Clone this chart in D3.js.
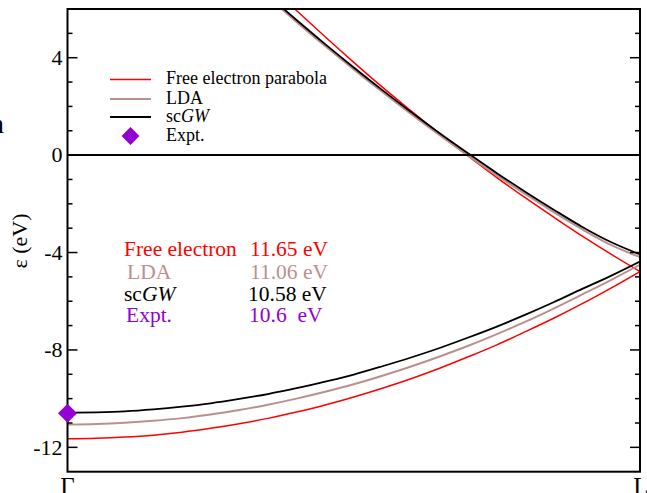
<!DOCTYPE html>
<html><head><meta charset="utf-8">
<script src="https://cdn.jsdelivr.net/npm/d3@7"></script>
<style>
html,body{margin:0;padding:0;background:#fff;}
svg{display:block;}
svg text{font-family:"Liberation Serif","Times New Roman",Times,"DejaVu Serif",serif;}
</style></head>
<body>
<svg id="c" width="647" height="493"></svg>
<script>
// k along Γ -> L (fraction of path)
const kLower = [0,0.05,0.1,0.15,0.2,0.25,0.3,0.35,0.4,0.45,0.5,0.55,0.6,0.65,0.7,0.75,0.8,0.85,0.9,0.95,1];
const freeLower = [-11.65,-11.63,-11.58,-11.50,-11.38,-11.22,-11.03,-10.81,-10.55,-10.26,-9.93,-9.57,-9.18,-8.75,-8.28,-7.79,-7.25,-6.69,-6.09,-5.45,-4.78];
const ldaLower  = [-11.06,-11.04,-10.99,-10.91,-10.80,-10.65,-10.47,-10.25,-10.00,-9.72,-9.41,-9.06,-8.68,-8.27,-7.83,-7.35,-6.84,-6.29,-5.71,-5.12,-4.50];
const gwLower   = [-10.58,-10.56,-10.52,-10.44,-10.33,-10.19,-10.01,-9.81,-9.57,-9.30,-9.01,-8.67,-8.31,-7.92,-7.49,-7.04,-6.55,-6.03,-5.48,-4.95,-4.37];

const kUpper = [0.35,0.4,0.45,0.5,0.55,0.6,0.65,0.7,0.75,0.8,0.85,0.9,0.95,1];
const freeUpper = [7.05,5.94,4.86,3.81,2.79,1.82,0.87,-0.04,-0.92,-1.76,-2.56,-3.34,-4.08,-4.78];
const ldaUpper  = [6.50,5.47,4.48,3.52,2.59,1.69,0.82,-0.02,-0.83,-1.60,-2.35,-3.06,-3.70,-4.19];
const gwUpper   = [6.57,5.55,4.56,3.60,2.67,1.77,0.90,0.07,-0.74,-1.51,-2.25,-2.96,-3.58,-4.08];

const exptK = [0];
const exptE = [-10.6];

const yTickValues = [4,0,-4,-8,-12];
const yMinorValues = [5,3,2,1,-1,-2,-3,-5,-6,-7,-9,-10,-11];
const xTickLabels = ["Γ","L"];
const xTickPos = [0,1];

const legendLabels = ["Free electron parabola","LDA","scGW","Expt."];
const seriesColors = {free:"#ff0000", lda:"#bc8f8f", gw:"#000000", expt:"#9400d3"};

const annNames  = ["Free electron","LDA","scGW","Expt."];
const annValues = ["11.65 eV","11.06 eV","10.58 eV","10.6\u00a0 eV"];

const FONT = "'Liberation Serif','Times New Roman',Times,serif";
const svg = d3.select("#c").attr("font-family",FONT);
const L = 67.5, R = 640, T = 9, B = 471.7;
const x = d3.scaleLinear().domain([0,1]).range([L,R]);
const y = d3.scaleLinear().domain([-13,6]).range([B,T]);

svg.append("clipPath").attr("id","clip").append("rect")
  .attr("x",L).attr("y",T).attr("width",R-L).attr("height",B-T);

const g = svg.append("g").attr("clip-path","url(#clip)");
const line = d3.line().x(d=>x(d[0])).y(d=>y(d[1])).curve(d3.curveMonotoneX);
function draw(ks, es, color, w){
  g.append("path").datum(ks.map((k,i)=>[k,es[i]]))
    .attr("d",line).attr("fill","none").attr("stroke",color).attr("stroke-width",w);
}
draw(kLower, freeLower, seriesColors.free, 1.5);
draw(kUpper, freeUpper, seriesColors.free, 1.5);
draw(kLower, ldaLower, seriesColors.lda, 2);
draw(kUpper, ldaUpper, seriesColors.lda, 2);
draw(kLower, gwLower, seriesColors.gw, 1.8);
draw(kUpper, gwUpper, seriesColors.gw, 1.8);

// zero line
svg.append("line").attr("x1",L).attr("x2",R).attr("y1",y(0)).attr("y2",y(0))
  .attr("stroke","#000").attr("stroke-width",2);

// frame
svg.append("rect").attr("x",L).attr("y",T).attr("width",R-L).attr("height",B-T)
  .attr("fill","none").attr("stroke","#000").attr("stroke-width",2);

function txt(sel){ return sel.append("text").attr("font-family",FONT); }

// ticks (inward, both sides)
const tk = svg.append("g");
yTickValues.forEach(v=>{
  tk.append("line").attr("x1",L).attr("x2",L+10).attr("y1",y(v)).attr("y2",y(v)).attr("stroke","#000").attr("stroke-width",1.5);
  tk.append("line").attr("x1",R).attr("x2",R-10).attr("y1",y(v)).attr("y2",y(v)).attr("stroke","#000").attr("stroke-width",1.5);
  txt(tk).attr("x",L-5).attr("y",y(v)).attr("dy","0.33em").attr("text-anchor","end")
    .attr("font-size",22).text(v);
});
yMinorValues.forEach(v=>{
  tk.append("line").attr("x1",L).attr("x2",L+5).attr("y1",y(v)).attr("y2",y(v)).attr("stroke","#000").attr("stroke-width",1.5);
  tk.append("line").attr("x1",R).attr("x2",R-5).attr("y1",y(v)).attr("y2",y(v)).attr("stroke","#000").attr("stroke-width",1.5);
});
xTickLabels.forEach((s,i)=>{
  txt(svg).attr("x",x(xTickPos[i])+(i?1:0)).attr("y",495).attr("text-anchor","middle")
    .attr("font-size",25).text(s);
});

// axis title
txt(svg).attr("transform","translate(27,241) rotate(-90)").attr("text-anchor","middle")
  .attr("font-size",22).text("ε (eV)");
// clipped fragment at the left edge
txt(svg).attr("x",-10).attr("y",133).attr("font-size",28).text("n");

// experimental point
svg.append("g").selectAll("path").data(exptK.map((k,i)=>[k,exptE[i]])).join("path")
  .attr("d",d3.symbol().type(d3.symbolSquare).size(180)())
  .attr("transform",d=>`translate(${x(d[0])},${y(d[1])}) rotate(45)`)
  .attr("fill",seriesColors.expt);

// legend
const lg = svg.append("g");
const legY = [79.5,99,117,136];
const legCol = [seriesColors.free, seriesColors.lda, seriesColors.gw];
legCol.forEach((c,i)=>{
  lg.append("line").attr("x1",110).attr("x2",151).attr("y1",legY[i]).attr("y2",legY[i])
    .attr("stroke",c).attr("stroke-width", i===0?1.5:2);
});
lg.append("path").attr("d",d3.symbol().type(d3.symbolSquare).size(160)())
  .attr("transform",`translate(130.5,${legY[3]}) rotate(45)`).attr("fill",seriesColors.expt);
legendLabels.forEach((s,i)=>{
  const t = txt(lg).attr("x",166).attr("y",legY[i]+4.7).attr("font-size",18);
  if (s==="scGW"){ t.append("tspan").text("sc"); t.append("tspan").attr("font-style","italic").text("GW"); }
  else t.text(s);
});

// annotations
const annY = [256,278.5,300.5,322];
const annColors = [seriesColors.free, seriesColors.lda, seriesColors.gw, seriesColors.expt];
const annX = [124,127,124,126];
const annVX = [250,250,248,249];
annNames.forEach((s,i)=>{
  const t = txt(svg).attr("x",annX[i]).attr("y",annY[i]).attr("font-size",21.5).attr("fill",annColors[i]);
  if (s==="scGW"){ t.append("tspan").text("sc"); t.append("tspan").attr("font-style","italic").text("GW"); }
  else t.text(s);
  txt(svg).attr("x",annVX[i]).attr("y",annY[i]).attr("font-size",21.5).attr("fill",annColors[i]).text(annValues[i]);
});
</script>
</body></html>
